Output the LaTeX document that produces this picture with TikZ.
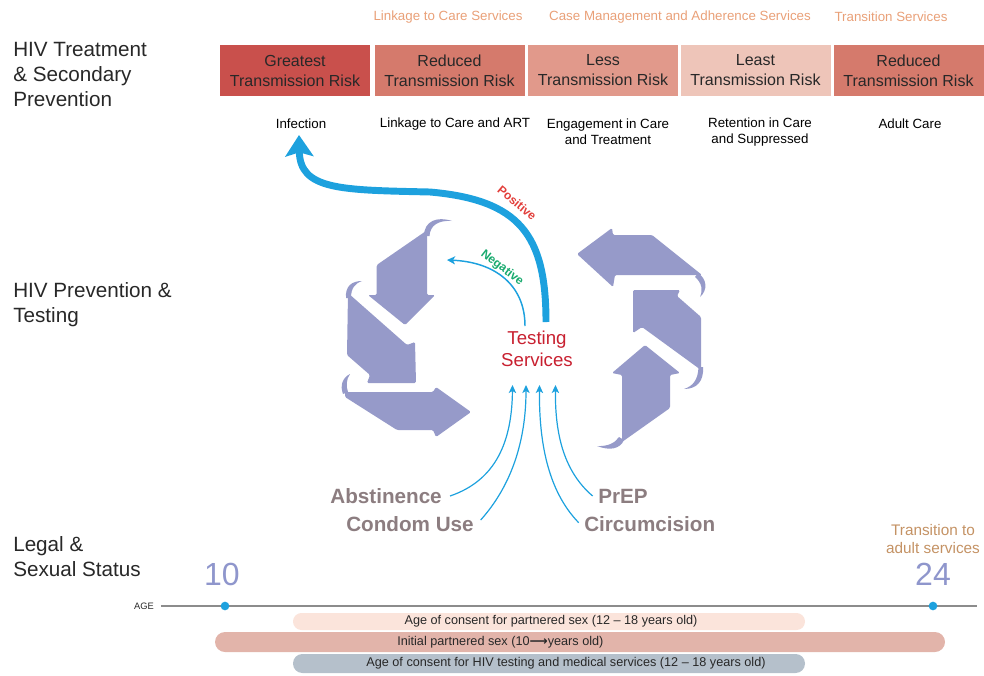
\documentclass[tikz,border=0pt]{standalone}
\usepackage{fontspec}
\setmainfont{Liberation Sans}
\newfontfamily\symfont{DejaVu Sans}
\usetikzlibrary{arrows.meta}
\definecolor{boxA}{RGB}{201,80,76}
\definecolor{boxB}{RGB}{213,122,108}
\definecolor{boxC}{RGB}{225,153,139}
\definecolor{boxD}{RGB}{238,197,185}
\definecolor{svc}{RGB}{233,160,120}
\definecolor{recyc}{RGB}{150,154,201}
\definecolor{skyb}{RGB}{29,161,222}
\definecolor{posred}{RGB}{226,62,58}
\definecolor{neggreen}{RGB}{24,170,110}
\definecolor{testred}{RGB}{200,32,48}
\definecolor{methgray}{RGB}{140,125,128}
\definecolor{agenumc}{RGB}{143,150,204}
\definecolor{transtxt}{RGB}{196,146,100}
\definecolor{barA}{RGB}{251,228,219}
\definecolor{barB}{RGB}{226,180,170}
\definecolor{barC}{RGB}{181,192,203}
\definecolor{txtdark}{RGB}{40,40,40}
\definecolor{lineg}{RGB}{140,140,140}
\begin{document}
\begin{tikzpicture}[x=0.75pt,y=-0.75pt,
  sectlabel/.style={anchor=north west,inner sep=0pt,align=left,text=txtdark,font=\fontsize{15.5}{18.75}\selectfont},
  riskbox/.style={minimum width=112.5pt,minimum height=38.25pt,inner sep=0pt,align=center,text=txtdark,font=\fontsize{12}{15}\selectfont},
  svclabel/.style={text=svc,font=\fontsize{10}{12}\selectfont,inner sep=0pt},
  stagelabel/.style={align=center,text=black,font=\fontsize{10}{12}\selectfont,inner sep=0pt},
  recyclearrow/.style={fill=recyc,draw=none,rounded corners=1pt},
  curl/.style={fill=recyc,draw=none},
  thickflow/.style={draw=skyb,line width=5.2pt,-{Stealth[length=16pt,width=21pt,inset=3pt]}},
  thinflow/.style={draw=skyb,line width=1.1pt,-{Stealth[length=6pt,width=6pt,inset=1.5pt]}},
  inflow/.style={draw=skyb,line width=0.9pt,-{Stealth[length=6pt,width=5.5pt,inset=1.5pt]}},
  method/.style={text=methgray,font=\bfseries\fontsize{15.5}{18}\selectfont,inner sep=0pt},
  agenum/.style={text=agenumc,font=\fontsize{24}{28}\selectfont,inner sep=0pt},
  bartext/.style={font=\fontsize{9.5}{11}\selectfont,text=txtdark,inner sep=0pt},
  agedot/.style={circle,fill=skyb,minimum size=6.5pt,inner sep=0pt},
]
\useasboundingbox (0,0) rectangle (984,675);

% section labels
\node[sectlabel] (secTreat) at (13,42) {HIV Treatment\\\& Secondary\\Prevention};
\node[sectlabel] (secPrev) at (13,282) {HIV Prevention \&\\Testing};
\node[sectlabel] (secLegal) at (13,536) {Legal \&\\Sexual Status};

% service labels
\node[svclabel] (svcLink) at (448,17) {Linkage to Care Services};
\node[svclabel] (svcCase) at (680,17) {Case Management and Adherence Services};
\node[svclabel] (svcTrans) at (891,17) {Transition Services};

% risk boxes
\node[riskbox,fill=boxA] (rb1) at (295,70.5) {Greatest\\Transmission Risk};
\node[riskbox,fill=boxB] (rb2) at (449.5,70.5) {Reduced\\Transmission Risk};
\node[riskbox,fill=boxC] (rb3) at (603,70.5) {Less\\Transmission Risk};
\node[riskbox,fill=boxD] (rb4) at (755.5,70.5) {Least\\Transmission Risk};
\node[riskbox,fill=boxB] (rb5) at (908.5,70.5) {Reduced\\Transmission Risk};

% stage labels
\node[stagelabel] (infection) at (301,124) {Infection};
\node[stagelabel] (linkage) at (455,124) {Linkage to Care and ART};
\node[stagelabel] (engage) at (608,132) {Engagement in Care\\and Treatment};
\node[stagelabel] (retain) at (760,132) {Retention in Care\\and Suppressed};
\node[stagelabel] (adult) at (910,124) {Adult Care};

% recycle arrows, left group
\fill[recyclearrow] (376.7,265) -- (426,231) -- (427,231) -- (427,295) -- (435,295) -- (405,325) -- (368,295) -- (376.7,295) -- cycle;
\fill[curl] (424,236) .. controls (424,221) and (437,216) .. (452,221) .. controls (439,220) and (430,225) .. (429.5,236) -- cycle;
\fill[recyclearrow] (348,293) -- (407,345) -- (415,342) -- (416,383) -- (367,383) -- (370,375) -- (347,355) -- cycle;
\fill[curl] (346,298) .. controls (345,286) and (352,281) .. (362,281) .. controls (355,283.5) and (351,288) .. (351,298) -- cycle;
\fill[recyclearrow] (345,392) -- (433,392) -- (436,387) -- (471,412) -- (436,437) -- (433,430) -- (397,430) -- (345,397) -- cycle;
\fill[curl] (343,394) .. controls (340,386) and (342,378) .. (350,374) .. controls (346,380) and (346,386) .. (348,392) -- cycle;

% recycle arrows, right group
\fill[recyclearrow] (577,254) -- (612,228) -- (613,235) -- (652,235) -- (702,275) -- (615,275) -- (613,287) -- cycle;
\fill[curl] (698,273) .. controls (707,279) and (708,290) .. (700,297) .. controls (703,290) and (702,283) .. (695,277) -- cycle;
\fill[recyclearrow] (633,290) -- (680,290) -- (677,296) -- (701,317) -- (701,370) -- (642,327) -- (633,333) -- cycle;
\fill[curl] (703,367) .. controls (704,381) and (697,389) .. (684,389) .. controls (693,386) and (698,380) .. (698.5,367) -- cycle;
\fill[recyclearrow] (645,345) -- (680,373) -- (670,375) -- (670,408) -- (622,442) -- (622,375) -- (612,373) -- cycle;
\fill[curl] (624,440) .. controls (620,449) and (610,451) .. (597,446) .. controls (608,446.5) and (615,443) .. (619,437) -- cycle;

% testing services
\node[text=testred,align=center,font=\fontsize{14}{16.5}\selectfont,inner sep=0pt] (testing) at (537,349) {Testing\\Services};

% positive / negative flows
\coordinate (posStart) at (546,322);
\coordinate (infTip) at (299,135);
\draw[thickflow] (posStart) .. controls (546,235) and (520,200) .. (430,192) .. controls (340,190) and (300,190) .. (infTip);
\node[text=posred,font=\bfseries\fontsize{9}{10}\selectfont,rotate=-40,inner sep=0pt] (poslbl) at (517,203) {Positive};

\coordinate (negStart) at (525,326);
\coordinate (negTip) at (447,260);
\draw[thinflow] (negStart) .. controls (525,285) and (495,262) .. (negTip);
\node[text=neggreen,font=\bfseries\fontsize{9}{10}\selectfont,rotate=-38,inner sep=0pt] (neglbl) at (502,268) {Negative};

% prevention methods
\node[method,anchor=east] (abst) at (442,496) {Abstinence};
\node[method,anchor=east] (condom) at (474,524) {Condom Use};
\node[method,anchor=west] (prep) at (598,496) {PrEP};
\node[method,anchor=west] (circ) at (584,524) {Circumcision};

\coordinate (inA) at (512.5,385);
\coordinate (inB) at (526,385);
\coordinate (inC) at (539.5,385);
\coordinate (inD) at (555.5,385);
\draw[inflow] ([xshift=6pt]abst.east) .. controls (497,480) and (512,440) .. (inA);
\draw[inflow] ([xshift=5pt,yshift=3pt]condom.east) .. controls (512,485) and (526,440) .. (inB);
\draw[inflow] ([xshift=-4pt,yshift=1pt]circ.west) .. controls (547,490) and (539,440) .. (inC);
\draw[inflow] ([xshift=-4pt]prep.west) .. controls (562,470) and (555,430) .. (inD);

% timeline
\node[agenum] (ten) at (222,574) {10};
\node[agenum] (twentyfour) at (933,574) {24};
\node[align=center,text=transtxt,font=\fontsize{11.5}{13.5}\selectfont,inner sep=0pt] (transition) at (933,539) {Transition to\\adult services};
\node[font=\fontsize{7}{8}\selectfont,text=txtdark,inner sep=0pt] (agelbl) at (144,606) {AGE};
\coordinate (ageEnd) at (977,606);
\draw[lineg,line width=0.9pt] ([xshift=5pt]agelbl.east) -- (ageEnd);
\node[agedot] (dotTen) at (225,606) {};
\node[agedot] (dotTwentyfour) at (933,606) {};

% bars
\fill[barA,rounded corners=6.3pt] (293,613) rectangle (805,630);
\node[bartext] (consent) at (551,621.5) {Age of consent for partnered sex (12 -- 18 years old)};
\fill[barB,rounded corners=7.5pt] (215,632) rectangle (945,652);
\node[bartext,anchor=west] (initial) at (397,642) {Initial partnered sex (10{\symfont\bfseries ⟶}years old)};
\fill[barC,rounded corners=7pt] (293,654) rectangle (805,673);
\node[bartext] (hivconsent) at (566,663.5) {Age of consent for HIV testing and medical services (12 -- 18 years old)};
\end{tikzpicture}
\end{document}
